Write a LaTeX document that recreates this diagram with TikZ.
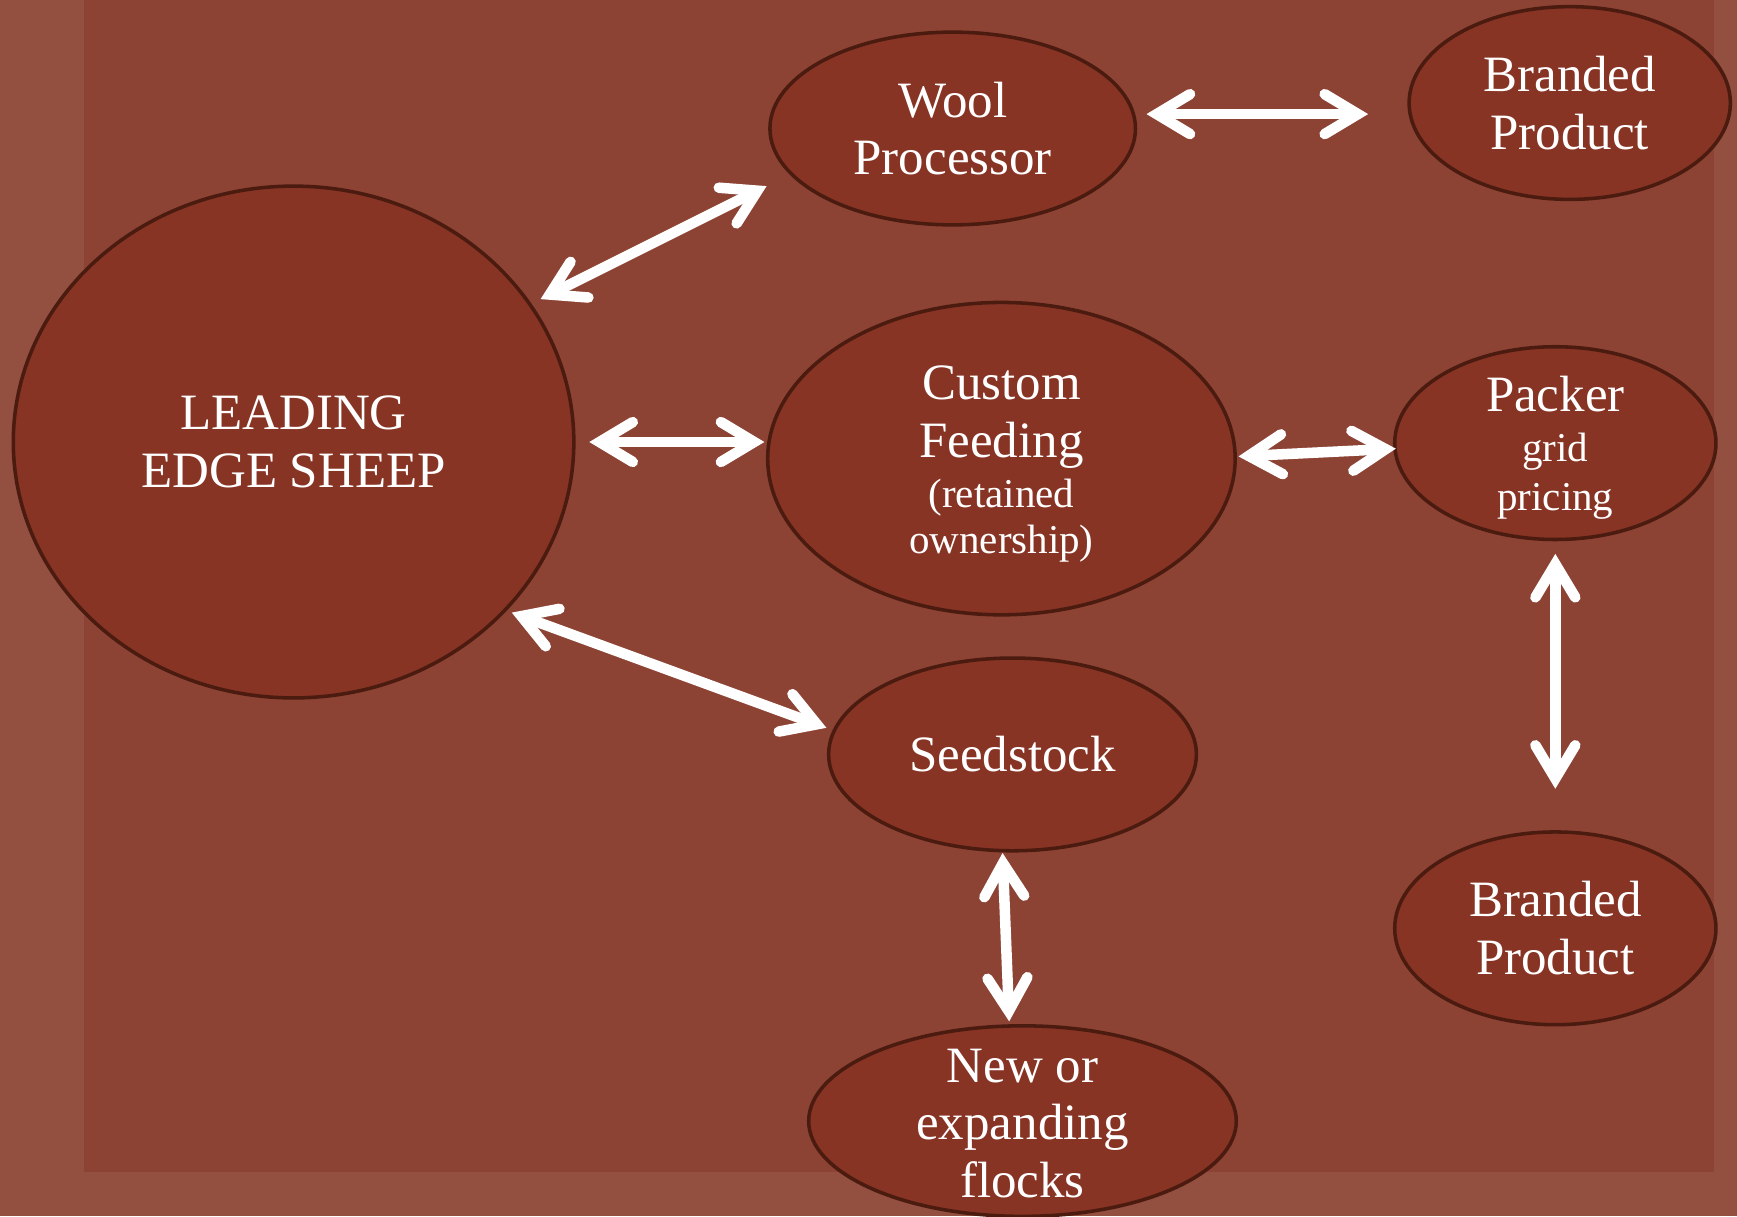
\documentclass[tikz,border=0pt]{standalone}
\usepackage{fontspec}
\setmainfont{Liberation Serif}
\usetikzlibrary{shapes.geometric,arrows.meta,calc}
\definecolor{outerbg}{RGB}{147,79,63}
\definecolor{innerbg}{RGB}{141,67,52}
\definecolor{ellfill}{RGB}{135,52,37}
\definecolor{ellline}{RGB}{75,27,16}
\newcommand\smtxt{\fontsize{37}{42}\selectfont}
\begin{document}
\begin{tikzpicture}[x=1pt,y=-1pt,
  ell/.style={ellipse,draw=ellline,line width=3.2pt,fill=ellfill,inner sep=0pt},
  txt/.style={text=white,align=center,font=\fontsize{46}{52}\selectfont,inner sep=0pt},
  biarrow/.style={draw=white,line width=9.5pt,
    >={Straight Barb[length=30pt,width=36pt,line cap=round,line join=miter]},<->}
]
\useasboundingbox (0,0) rectangle (1568,1098);
\fill[outerbg] (0,0) rectangle (1568,1098);
\fill[innerbg] (76,0) rectangle (1547,1058);

% ellipses
\node[ell,minimum width=506pt,minimum height=462pt] (lead) at (265,399) {};
\node[ell,minimum width=330pt,minimum height=174pt] (wool) at (860,116) {};
\node[ell,minimum width=290pt,minimum height=174pt] (bt) at (1417,93) {};
\node[ell,minimum width=422pt,minimum height=282pt] (custom) at (904,414) {};
\node[ell,minimum width=290pt,minimum height=174pt] (packer) at (1404,400) {};
\node[ell,minimum width=332pt,minimum height=174pt] (seed) at (914,681) {};
\node[ell,minimum width=290pt,minimum height=174pt] (bb) at (1404,838) {};
\node[ell,minimum width=386pt,minimum height=172pt] (flocks) at (923,1012) {};

% texts
\node[txt] (leadt) at (lead) {LEADING\\EDGE SHEEP};
\node[txt] (woolt) at (wool) {Wool\\Processor};
\node[txt] (btt) at (bt) {Branded\\Product};
\node[txt,yshift=-5pt] (customt) at (custom) {Custom\\[0pt]Feeding\\[-7pt]\smtxt (retained\\[-10pt]\smtxt ownership)};
\node[txt,yshift=-4pt] (packert) at (packer) {Packer\\[-7pt]\smtxt grid\\[-8pt]\smtxt pricing};
\node[txt] (seedt) at (seed) {Seedstock};
\node[txt] (bbt) at (bb) {Branded\\Product};
\node[txt,yshift=-2pt] (flockst) at (flocks) {New or\\expanding\\flocks};

% connectors
\draw[biarrow] ($(lead)+(223,-129)$) -- ($(wool)+(-168,52)$);
\draw[biarrow] ($(wool)+(175,-13)$) -- ($(bt)+(-182,10)$);
\draw[biarrow] ($(lead)+(267,0)$) -- ($(custom)+(-214,-15)$);
\draw[biarrow] ($(custom)+(214,-2)$) -- ($(packer)+(-144,5)$);
\draw[biarrow] ($(lead)+(197,154)$) -- ($(seed)+(-168,-24)$);
\draw[biarrow] ($(packer)+(0,100)$) -- ($(bb)+(0,-126)$);
\draw[biarrow] ($(seed)+(-9,89)$) -- ($(flocks)+(-12,-90)$);
\end{tikzpicture}
\end{document}
